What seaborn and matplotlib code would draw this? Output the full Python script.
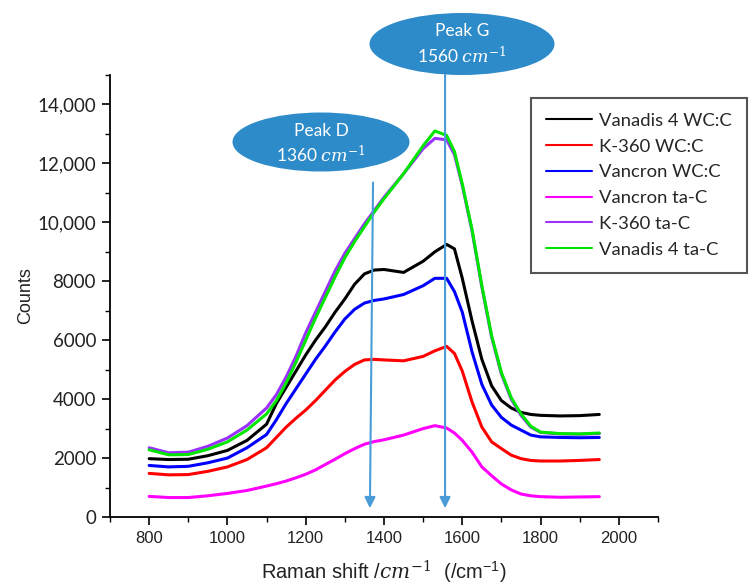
import numpy as np
import pandas as pd
import seaborn as sns
import matplotlib
matplotlib.use("Agg")
import matplotlib.pyplot as plt
from matplotlib.patches import Ellipse
from matplotlib.ticker import MultipleLocator, FixedLocator

# ---------------- data ----------------
raman_shift = [800, 850, 900, 950, 1000, 1050,
               1100, 1125, 1150, 1175, 1200, 1225, 1250, 1275, 1300, 1325, 1350, 1375, 1400,
               1450, 1500, 1530, 1560, 1580, 1600,
               1625, 1650, 1675, 1700, 1725, 1750, 1775, 1800,
               1850, 1900, 1950]

vanadis4_wcc = [1980, 1950, 1960, 2080, 2260, 2600,
                3150, 3850, 4400, 4950, 5500, 6000, 6450, 6950, 7400, 7900, 8250, 8380, 8400,
                8300, 8680, 9000, 9250, 9100, 8100,
                6650, 5350, 4450, 3950, 3700, 3550, 3480, 3450,
                3430, 3440, 3480]
k360_wcc = [1480, 1430, 1440, 1550, 1700, 1950,
            2350, 2700, 3050, 3350, 3630, 3950, 4300, 4650, 4940, 5180, 5330, 5350, 5330,
            5300, 5450, 5640, 5790, 5550, 4950,
            3900, 3050, 2550, 2320, 2100, 1980, 1920, 1900,
            1900, 1920, 1950]
vancron_wcc = [1750, 1700, 1720, 1840, 2000, 2350,
               2800, 3300, 3850, 4350, 4850, 5350, 5800, 6280, 6720, 7050, 7260, 7350, 7400,
               7550, 7850, 8100, 8100, 7650, 6950,
               5600, 4500, 3800, 3380, 3120, 2950, 2780, 2720,
               2700, 2690, 2700]
vancron_tac = [700, 660, 660, 720, 800, 900,
               1050, 1130, 1220, 1330, 1450, 1600, 1780, 1960, 2150, 2320, 2470, 2560, 2620,
               2780, 3000, 3100, 3020, 2850, 2600,
               2200, 1700, 1400, 1120, 920, 780, 720, 690,
               670, 680, 690]
k360_tac = [2350, 2180, 2200, 2400, 2680, 3100,
            3700, 4150, 4750, 5450, 6250, 6950, 7650, 8350, 8950, 9450, 9950, 10400, 10850,
            11650, 12500, 12850, 12800, 12300, 11250,
            9700, 7800, 6100, 4850, 4000, 3450, 3050, 2870,
            2820, 2810, 2830]
vanadis4_tac = [2280, 2110, 2120, 2300, 2550, 2950,
                3500, 3950, 4550, 5250, 6000, 6750, 7450, 8150, 8800, 9350, 9850, 10350, 10800,
                11650, 12600, 13100, 12950, 12400, 11300,
                9750, 7850, 6150, 4900, 4050, 3500, 3080, 2880,
                2830, 2820, 2850]

series_names = ["Vanadis 4 WC:C", "K-360 WC:C", "Vancron WC:C",
                "Vancron ta-C", "K-360 ta-C", "Vanadis 4 ta-C"]
series_values = [vanadis4_wcc, k360_wcc, vancron_wcc, vancron_tac, k360_tac, vanadis4_tac]
series_colors = ["#000000", "#FF0000", "#0000FF", "#FF00FF", "#9B30FF", "#00E600"]

x_ticks = [800, 1000, 1200, 1400, 1600, 1800, 2000]
y_ticks = [0, 2000, 4000, 6000, 8000, 10000, 12000, 14000]
y_tick_labels = ["0", "2000", "4000", "6000", "8000", "10,000", "12,000", "14,000"]

peak_labels = ["Peak D", "Peak G"]
peak_positions = [1360, 1560]

# ---------------- figure ----------------
sns.set_theme(style="ticks")
plt.rcParams["font.family"] = ["Liberation Sans", "DejaVu Sans"]
plt.rcParams["mathtext.fontset"] = "dejavuserif"

W, H = 756, 588
fig = plt.figure(figsize=(W / 100, H / 100), dpi=100)
fig.patch.set_facecolor("white")
ax = fig.add_axes([110 / W, 1 - 517 / H, 548 / W, 442 / H])
ax.set_facecolor("white")

df = pd.DataFrame({
    "shift": np.tile(raman_shift, len(series_names)),
    "counts": np.concatenate(series_values),
    "series": np.repeat(series_names, len(raman_shift)),
})
sns.lineplot(data=df, x="shift", y="counts", hue="series", hue_order=series_names,
             palette=dict(zip(series_names, series_colors)), estimator=None,
             linewidth=2.2, ax=ax)

ax.set_xlim(700, 2100)
ax.set_ylim(0, 15000)
ax.xaxis.set_major_locator(FixedLocator(x_ticks))
ax.xaxis.set_minor_locator(MultipleLocator(100))
ax.yaxis.set_major_locator(FixedLocator(y_ticks))
ax.yaxis.set_minor_locator(MultipleLocator(1000))
ax.set_yticklabels(y_tick_labels)
for lbl in ax.get_yticklabels():
    lbl.set_fontfamily(["Lato", "DejaVu Sans"])
    lbl.set_fontsize(13.5)
for lbl in ax.get_xticklabels():
    lbl.set_fontsize(12)

ax.tick_params(which="major", direction="out", length=6, width=1.2, color="black",
               labelcolor="#222222", pad=4)
ax.tick_params(which="minor", direction="out", length=3.5, width=1.0, color="black")
for s in ["top", "right"]:
    ax.spines[s].set_visible(False)
for s in ["left", "bottom"]:
    ax.spines[s].set_color("black")
    ax.spines[s].set_linewidth(1.3)

ax.set_xlabel(r"Raman shift /$cm^{-1}$  (/cm$^{\mathregular{-1}}$)", fontsize=14.5, color="#222222")
ax.xaxis.set_label_coords(0.5, -0.095)
ax.set_ylabel("Counts", fontsize=13, color="#222222")
ax.yaxis.set_label_coords(-0.139, 0.5)

leg = ax.legend(loc="upper left", bbox_to_anchor=(531 / W, 1 - 98 / H),
                bbox_transform=fig.transFigure, borderaxespad=0, frameon=True,
                fancybox=False, edgecolor="#555555", framealpha=1,
                prop={"family": ["Lato", "DejaVu Sans"], "size": 13.3},
                handlelength=2.5, handletextpad=0.38, labelspacing=0.53,
                borderpad=0.8)
leg.get_frame().set_linewidth(1.5)
for h in leg.get_lines():
    h.set_linewidth(1.5)

# peak annotations
ell_color = "#2E8BC9"
arrow_color = "#4A9CD8"
ell_specs = [((321, 142), 177, 59, 131, 154), ((462, 44), 185, 62, 31, 55)]
for name, pos, (c, w, h, ty1, ty2) in zip(peak_labels, peak_positions, ell_specs):
    fig.add_artist(Ellipse((c[0] / W, 1 - c[1] / H), w / W, h / H,
                           transform=fig.transFigure, facecolor=ell_color,
                           edgecolor="none", zorder=5))
    fig.text(c[0] / W, 1 - ty1 / H, name, ha="center", va="center", color="white",
             fontsize=12.5, family=["Lato", "DejaVu Sans"], zorder=6)
    fig.text(c[0] / W, 1 - ty2 / H, f"{pos} $cm^{{-1}}$", ha="center", va="center",
             color="white", fontsize=12.5, family=["Lato", "DejaVu Sans"], zorder=6)

ax.annotate("", xy=(1364, 300), xytext=(1372, 11350), annotation_clip=False,
            arrowprops=dict(arrowstyle="-|>", color=arrow_color, lw=1.5,
                            mutation_scale=16, shrinkA=0, shrinkB=0), zorder=4)
ax.annotate("", xy=(1556, 300), xytext=(1556, 15000), annotation_clip=False,
            arrowprops=dict(arrowstyle="-|>", color=arrow_color, lw=1.5,
                            mutation_scale=16, shrinkA=0, shrinkB=0), zorder=4)

fig.savefig("out.png", dpi=100, facecolor="white")
